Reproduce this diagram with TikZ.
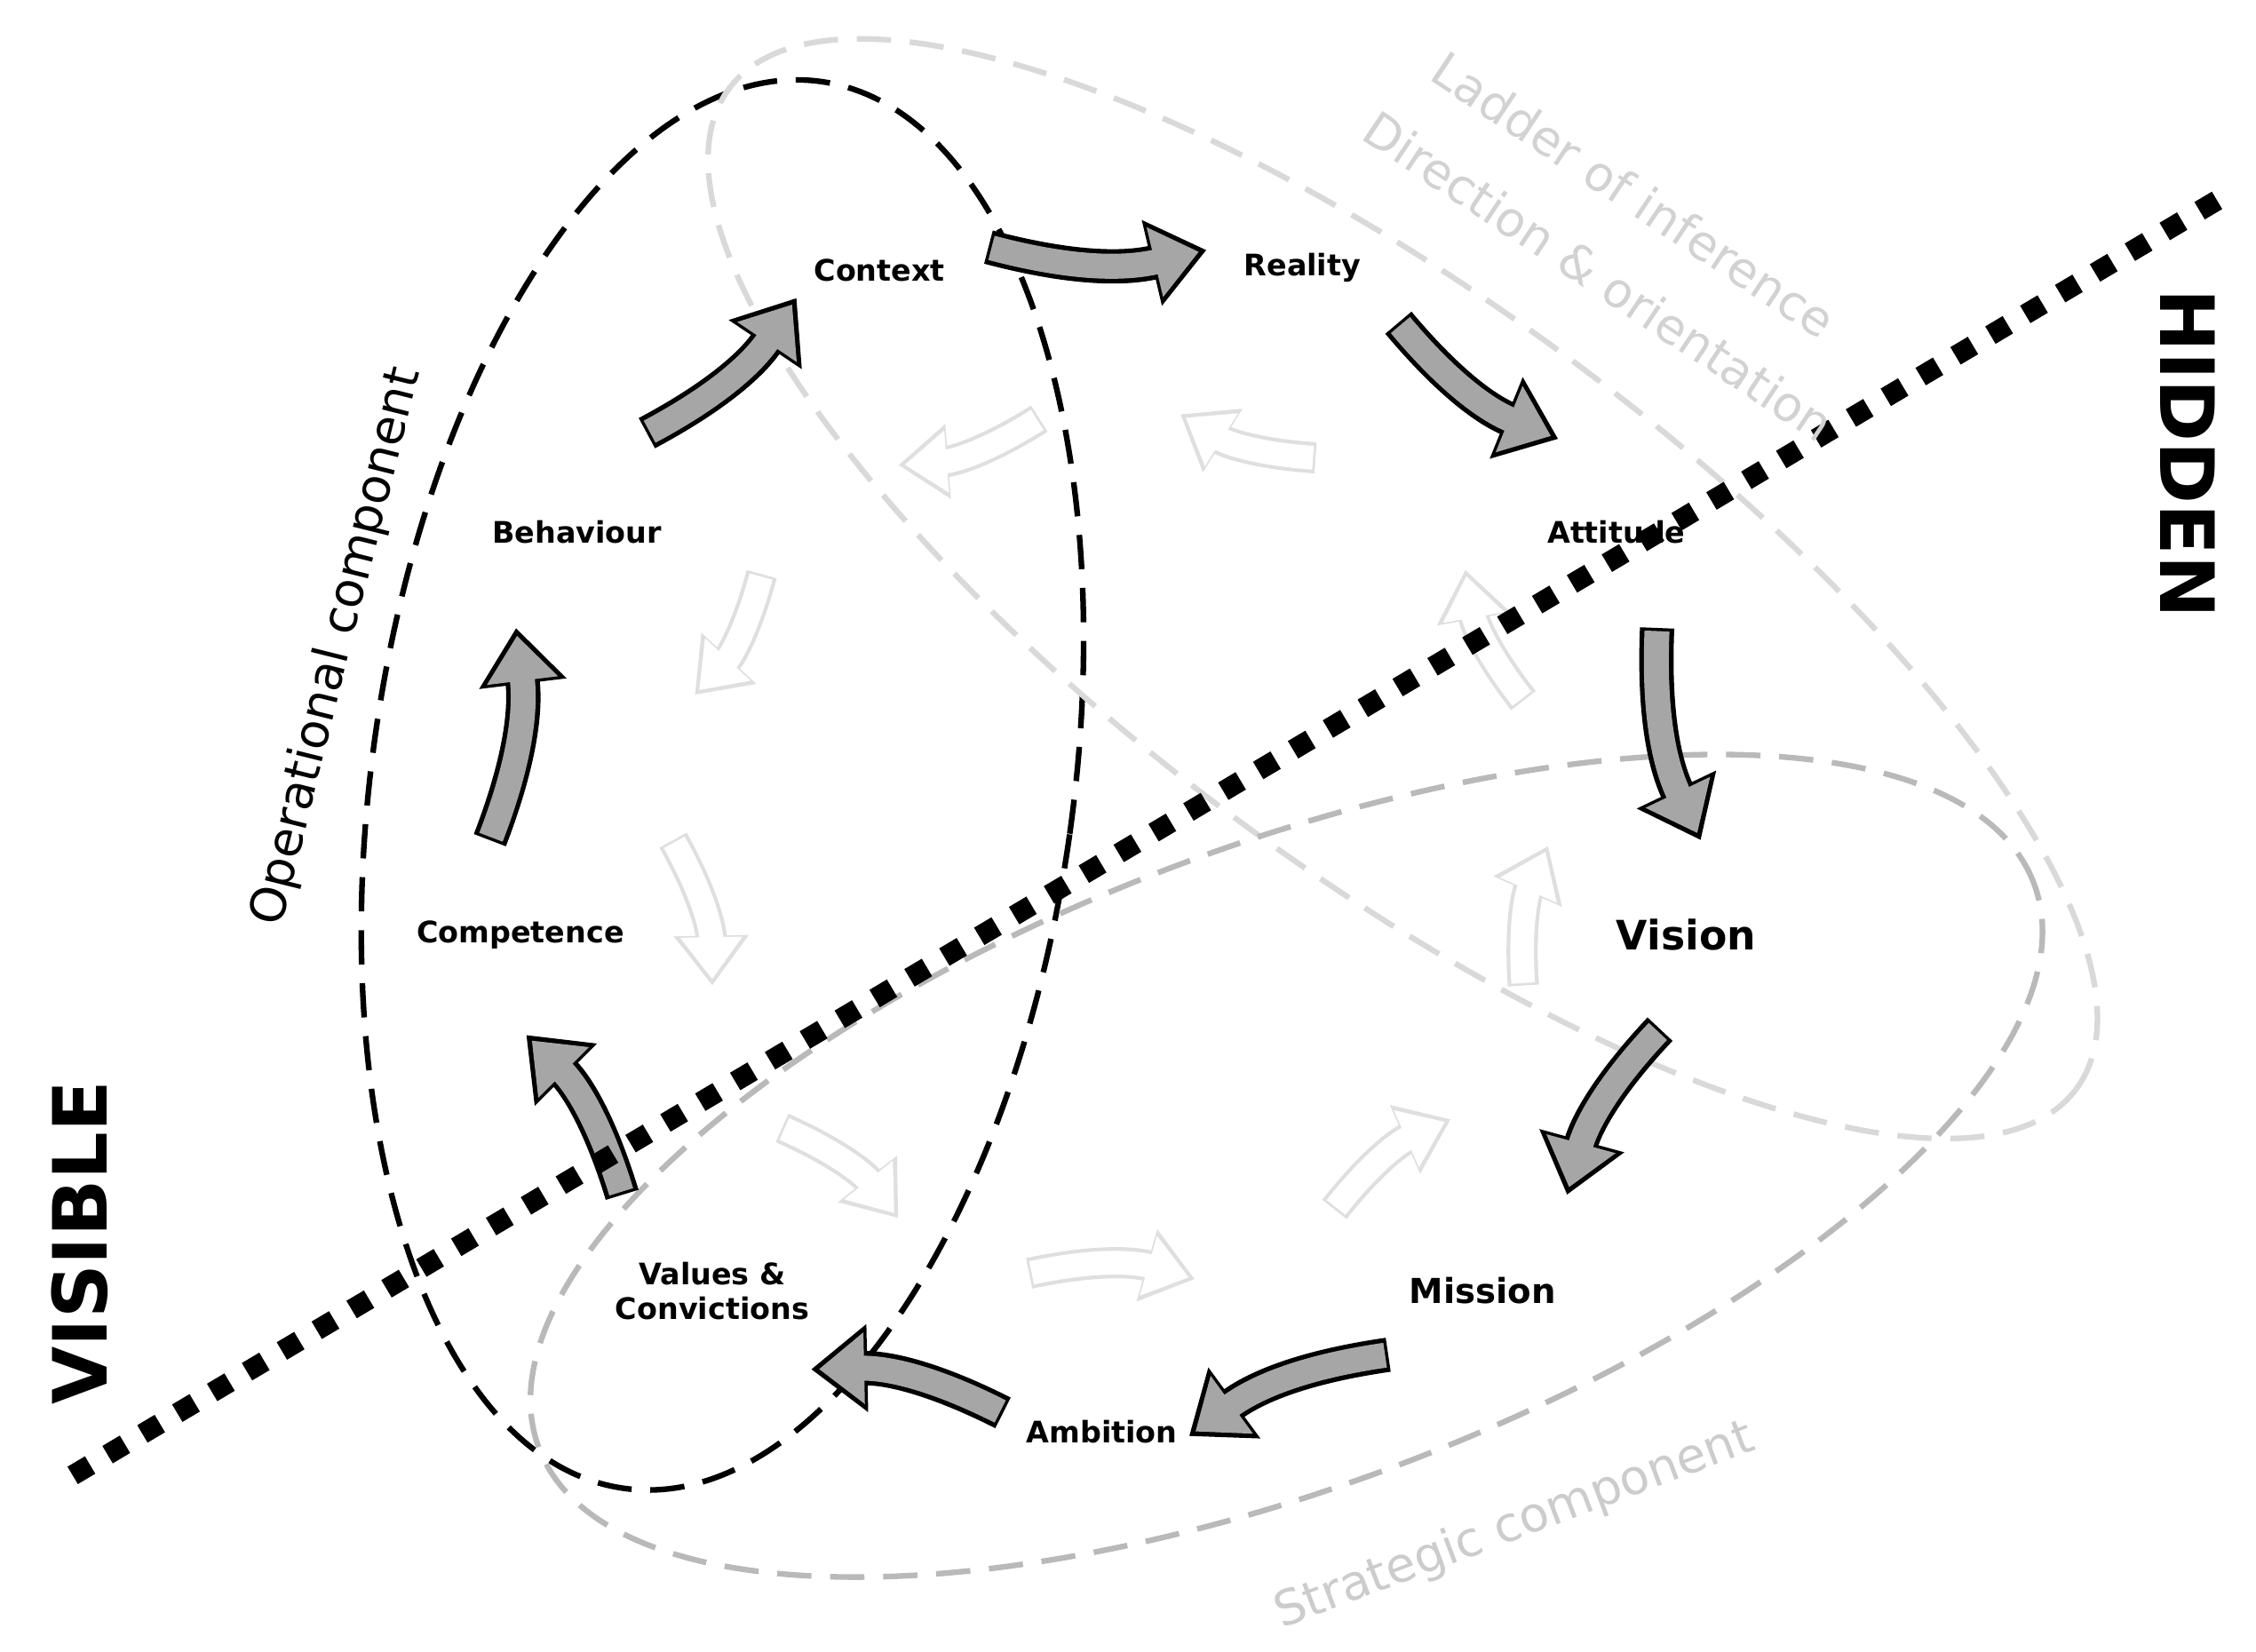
\documentclass[tikz,border=0pt]{standalone}
\usepackage{fontspec}
\setmainfont{DejaVu Sans}
\usetikzlibrary{arrows.meta,shapes.geometric}
\begin{document}
\begin{tikzpicture}[x=0.01637cm,y=-0.01637cm,
 lbl/.style={font=\bfseries\fontsize{9.5}{11}\selectfont,align=center},
 gtxt/.style={font=\fontsize{15.5}{17}\selectfont},
 big/.style={font=\bfseries\fontsize{24}{26}\selectfont},
 dsh/.style={line width=1.8pt,dash pattern=on 11pt off 6pt},
 ga/.style={line width=11pt,black,-{Triangle[length=18pt,width=27pt]},bend right=14},
 gi/.style={line width=8pt,gray!70,shorten >=2.5pt,shorten <=1pt,-{Triangle[length=14.5pt,width=22pt]},bend right=14},
 wa/.style={line width=10pt,gray!25,-{Triangle[length=16pt,width=23pt]},bend left=14},
 wi/.style={line width=7.6pt,white,shorten >=2pt,shorten <=0.8pt,-{Triangle[length=13.5pt,width=19pt]},bend left=14}]
\useasboundingbox (0,0) rectangle (1552,1136);
% ellipses
\node[draw,dsh,ellipse,inner sep=0,minimum width=7.9cm,minimum height=16cm,rotate=-8] (op) at (497,540) {};
\node[draw,dsh,gray!30,ellipse,inner sep=0,minimum width=18.9cm,minimum height=6.4cm,rotate=-36.6] (li) at (965,405) {};
\node[draw,dsh,gray!55,ellipse,inner sep=0,minimum width=18cm,minimum height=7.2cm,rotate=20.7] (st) at (885,802) {};
% labels
\node[lbl] (context) at (605,186) {Context};
\node[lbl] (reality) at (896,184) {Reality};
\node[lbl] (attitude) at (1112,366) {Attitude};
\node[lbl,font=\bfseries\fontsize{13}{15}\selectfont] (vision) at (1160,643) {Vision};
\node[lbl,font=\bfseries\fontsize{11}{13}\selectfont] (mission) at (1020,888) {Mission};
\node[lbl] (ambition) at (758,985) {Ambition};
\node[lbl] (values) at (490,888) {Values \&\\Convictions};
\node[lbl] (competence) at (358,643) {Competence};
\node[lbl] (behaviour) at (397,366) {Behaviour};
% outer gray arrows
\foreach \n/\a/\b in {1/{680,170}/{830,172},2/{962,222}/{1072,302},3/{1140,432}/{1170,578},4/{1142,708}/{1078,822},5/{955,932}/{818,988},6/{690,972}/{558,942},7/{428,822}/{362,712},8/{337,578}/{355,432},9/{445,298}/{548,205}}{
 \coordinate (gs\n) at (\a); \coordinate (ge\n) at (\b);
 \draw[ga] (gs\n) to (ge\n);
 \draw[gi] (gs\n) to (ge\n);}
% inner white arrows
\foreach \n/\a/\b in {1/{715,288}/{618,320},2/{905,315}/{812,285},3/{1048,482}/{1008,392},4/{1048,678}/{1065,582},5/{918,832}/{998,770},6/{708,876}/{822,880},7/{538,776}/{618,838},8/{463,578}/{490,678},9/{524,395}/{478,478}}{
 \coordinate (ws\n) at (\a); \coordinate (we\n) at (\b);
 \draw[wa] (ws\n) to (we\n);
 \draw[wi] (ws\n) to (we\n);}
% divider
\coordinate (d1) at (50,1015); \coordinate (d2) at (1530,135);
\draw[line width=6.5pt,dash pattern=on 6.5pt off 6.5pt] (d1) -- (d2);
% texts
\node[gtxt,gray!35,rotate=-33.7] (t1) at (1124,134) {Ladder of inference};
\node[gtxt,gray!35,rotate=-33.7] (t2) at (1100,190) {Direction \& orientation};
\node[gtxt,rotate=76] (t3) at (232,445) {Operational component};
\node[gtxt,gray!40,rotate=20.7] (t4) at (1042,1050) {Strategic component};
\node[big,rotate=-90] (hidden) at (1505,312) {HIDDEN};
\node[big,rotate=90] (visible) at (55,855) {VISIBLE};
\end{tikzpicture}
\end{document}
